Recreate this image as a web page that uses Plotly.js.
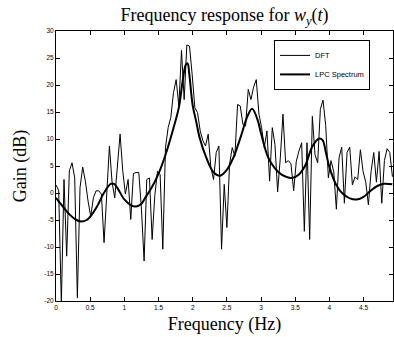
<!DOCTYPE html>
<html><head><meta charset="utf-8">
<script src="https://cdn.plot.ly/plotly-3.0.1.min.js"></script>
<style>html,body{margin:0;padding:0;background:#fff}#chart{width:394px;height:337px}</style>
</head><body><div id="chart"></div>
<script>
const freq = [0, 0.0391, 0.0781, 0.1172, 0.1563, 0.1953, 0.2344, 0.2734, 0.3125, 0.3516,
  0.3906, 0.4297, 0.4688, 0.5078, 0.5469, 0.5859, 0.625, 0.6641, 0.7031, 0.7422,
  0.7813, 0.8203, 0.8594, 0.8984, 0.9375, 0.9766, 1.0156, 1.0547, 1.0938, 1.1328,
  1.1719, 1.2109, 1.25, 1.2891, 1.3281, 1.3672, 1.4063, 1.4453, 1.4844, 1.5234,
  1.5625, 1.6016, 1.6406, 1.6797, 1.7188, 1.7578, 1.7969, 1.8359, 1.875, 1.9141,
  1.9531, 1.9922, 2.0313, 2.0703, 2.1094, 2.1484, 2.1875, 2.2266, 2.2656, 2.3047,
  2.3438, 2.3828, 2.4219, 2.4609, 2.5, 2.5391, 2.5781, 2.6172, 2.6563, 2.6953,
  2.7344, 2.7734, 2.8125, 2.8516, 2.8906, 2.9297, 2.9688, 3.0078, 3.0469, 3.0859,
  3.125, 3.1641, 3.2031, 3.2422, 3.2813, 3.3203, 3.3594, 3.3984, 3.4375, 3.4766,
  3.5156, 3.5547, 3.5938, 3.6328, 3.6719, 3.7109, 3.75, 3.7891, 3.8281, 3.8672,
  3.9063, 3.9453, 3.9844, 4.0234, 4.0625, 4.1016, 4.1406, 4.1797, 4.2188, 4.2578,
  4.2969, 4.3359, 4.375, 4.4141, 4.4531, 4.4922, 4.5313, 4.5703, 4.6094, 4.6484,
  4.6875, 4.7266, 4.7656, 4.8047, 4.8438, 4.8828, 4.9219];

const dftGain = [1.5, 0.5, -20.5, 2.5, -11.7, 4.1, 5.6, 2.8, -19.4, 1.0,
  4.8, 2.2, -1.5, -4.3, -0.9, 0.4, 0.4, -0.2, -9.2, -1.0,
  8.7, 2.0, -0.9, 5.0, 10.9, 4.1, -0.2, 2.5, -4.9, 3.6,
  3.8, 3.8, -3.0, -12.6, 2.5, 2.8, -8.6, -0.5, 4.0, 3.4,
  -10.4, 8.4, 12.1, 14.0, 18.6, 21.0, 16.1, 26.4, 17.3, 27.4,
  27.2, 21.9, 15.8, 14.9, 11.5, 9.7, 8.7, 10.9, 4.7, 2.5,
  7.5, 8.7, -10.4, 1.6, -6.4, 5.3, 8.4, 6.8, 16.4, 16.1,
  12.7, 12.4, 19.2, 17.3, 19.6, 21.0, 14.6, 12.1, 8.4, 11.5,
  2.2, 12.1, 9.0, 0.2, 6.5, 14.6, 5.6, 6.0, 5.4, 0.4,
  5.9, 7.8, 9.3, -7.1, 9.3, -8.6, 14.2, 7.1, 5.6, 15.5,
  17.2, 12.5, 2.8, 6.0, 4.0, -3.0, 6.5, 8.5, -1.9, 7.5,
  8.5, 1.5, 3.0, 2.5, 8.0, 4.0, 2.0, -2.2, 4.0, 7.5,
  2.0, 7.7, -1.9, 6.0, 8.2, 7.5, 3.0];

const lpcFreq = [0, 0.1, 0.2, 0.3, 0.37, 0.45, 0.5, 0.6, 0.7, 0.8, 0.85, 0.9, 1.0, 1.1, 1.17,
  1.25, 1.3, 1.4, 1.5, 1.6, 1.7, 1.8, 1.85, 1.9, 1.925, 1.95, 2.0, 2.05, 2.1, 2.2, 2.3,
  2.4, 2.5, 2.6, 2.7, 2.8, 2.87, 2.95, 3.0, 3.1, 3.2, 3.3, 3.45, 3.55, 3.65, 3.75, 3.85,
  3.9, 3.95, 4.0, 4.1, 4.2, 4.3, 4.4, 4.5, 4.6, 4.7, 4.8, 4.92];
const lpcGain = [-0.9, -2.5, -4.0, -5.0, -5.3, -5.0, -4.4, -2.5, 0.0, 1.7, 1.7, 0.9, -1.2, -2.3, -2.5,
  -2.0, -1.0, 1.0, 3.6, 7.0, 11.2, 16.0, 20.5, 23.8, 24.0, 22.0, 16.2, 13.3, 10.3, 6.5, 3.9,
  3.2, 4.3, 6.7, 10.3, 14.2, 15.6, 13.5, 11.0, 6.7, 4.6, 3.4, 2.8, 3.4, 5.2, 8.6, 10.1,
  9.8, 7.4, 4.8, 1.5, -0.2, -1.0, -1.2, -0.7, 0.4, 1.3, 1.7, 1.6];

const xTickVals = [0, 0.5, 1, 1.5, 2, 2.5, 3, 3.5, 4, 4.5];
const xTickText = ['0', '0.5', '1', '1.5', '2', '2.5', '3', '3.5', '4', '4.5'];
const yTickVals = [-20, -15, -10, -5, 0, 5, 10, 15, 20, 25, 30];
const yTickText = ['-20', '-15', '-10', '-5', '0', '5', '10', '15', '20', '25', '30'];
const seriesNames = ['DFT', 'LPC Spectrum'];

const serif = 'Liberation Serif, Times New Roman, serif';
const sans = 'Liberation Sans, Arial, Helvetica, sans-serif';

const traces = [
  {x: freq, y: dftGain, type: 'scatter', mode: 'lines', name: seriesNames[0],
   line: {color: '#000', width: 1}},
  {x: lpcFreq, y: lpcGain, type: 'scatter', mode: 'lines', name: seriesNames[1],
   line: {color: '#000', width: 2, shape: 'spline', smoothing: 1}}
];

const axisCommon = {
  showline: true, linecolor: '#000', linewidth: 1, mirror: 'ticks',
  ticks: 'inside', ticklen: 4, tickwidth: 1, tickcolor: '#000',
  showgrid: false, zeroline: false,
  tickfont: {family: sans, size: 6.5, color: '#000'},
  tickmode: 'array'
};

const layout = {
  width: 394, height: 337,
  margin: {l: 56, r: 1, t: 31, b: 36, pad: 0},
  paper_bgcolor: '#fff', plot_bgcolor: '#fff',
  showlegend: true,
  title: {text: 'Frequency response for <i>w<sub>y</sub></i>(<i>t</i>)',
          font: {family: serif, size: 18, color: '#000'},
          x: 0.57, xanchor: 'center', y: 0.955, yanchor: 'middle'},
  xaxis: Object.assign({}, axisCommon, {
    range: [0, 4.93], tickvals: xTickVals, ticktext: xTickText,
    title: {text: 'Frequency (Hz)', font: {family: serif, size: 18, color: '#000'}, standoff: 7}
  }),
  yaxis: Object.assign({}, axisCommon, {
    range: [-20, 30], tickvals: yTickVals, ticktext: yTickText,
    title: {text: 'Gain (dB)', font: {family: serif, size: 18, color: '#000'}, standoff: 12}
  }),
  legend: {x: 0.647, y: 0.967, xanchor: 'left', yanchor: 'top',
           bgcolor: '#fff', bordercolor: '#000', borderwidth: 1,
           font: {family: sans, size: 7.5, color: '#000'}, itemwidth: 30,
           tracegroupgap: 0}
};

Plotly.newPlot('chart', traces, layout, {staticPlot: true, displayModeBar: false});
</script>
</body></html>
